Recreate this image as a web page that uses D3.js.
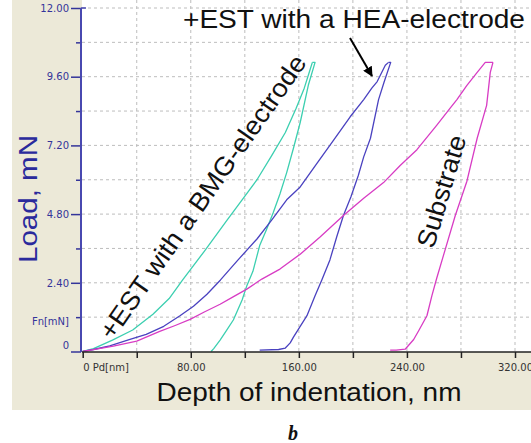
<!DOCTYPE html>
<html>
<head>
<meta charset="utf-8">
<script src="https://cdn.jsdelivr.net/npm/d3@7"></script>
<style>
  body { margin: 0; background: #fff; }
  svg { display: block; }
</style>
</head>
<body>
<div id="chart"></div>
<script>
// depth (nm), load (mN)
var bmgLoading = [
  [0, 0], [8, 0.1], [22, 0.4], [37, 0.75], [52, 1.3], [64, 1.85], [74, 2.5],
  [90, 3.5], [107, 4.6], [118, 5.3], [129, 6.0], [140, 6.85], [150, 7.65],
  [158, 8.5], [164, 9.2], [168, 9.8], [170, 10.1]
];
var bmgUnloading = [
  [170, 10.1], [172, 10.1], [167, 9.3], [161, 8.0], [156, 7.1], [151, 6.25],
  [146, 5.5], [141, 4.85], [136, 4.25], [131, 3.7], [126, 2.8], [121.5, 2.3],
  [118, 1.8], [111.5, 1.1], [106, 0.7], [101.7, 0.4], [97, 0.1], [95, 0]
];
var heaLoading = [
  [0, 0], [8, 0.07], [20, 0.2], [35, 0.42], [47, 0.6], [60, 0.88], [72, 1.25],
  [82, 1.58], [92, 2.0], [102, 2.5], [115, 3.2], [129, 3.93], [140, 4.6],
  [151, 5.3], [161, 5.75], [173, 6.55], [186, 7.4], [198, 8.2], [208, 8.8],
  [214, 9.2], [218, 9.43], [224, 10.0], [226.4, 10.1]
];
var heaUnloading = [
  [226.4, 10.1], [228, 10.1], [223, 9.4], [219, 8.8], [213, 7.45], [208, 6.8],
  [204, 6.15], [198.5, 5.4], [193, 4.75], [188, 4.0], [183, 3.2], [177, 2.5],
  [172, 1.95], [166, 1.25], [161, 0.88], [156, 0.5], [153.6, 0.3], [150, 0.12],
  [145, 0.07], [131, 0.05]
];
var substrateLoading = [
  [0, 0], [10, 0.08], [22.7, 0.19], [40, 0.36], [57, 0.7], [68, 0.9],
  [79.5, 1.12], [90, 1.38], [101.7, 1.65], [111, 1.9], [121.5, 2.18],
  [132.6, 2.53], [146, 2.88], [161, 3.4], [175.7, 4.0], [193, 4.75],
  [208, 5.35], [222.7, 5.9], [235, 6.5], [247.4, 7.05], [262, 7.9],
  [272, 8.5], [277, 8.8], [284.4, 9.3], [292, 9.75], [298, 10.1], [303.7, 10.1]
];
var substrateUnloading = [
  [303.7, 10.1], [301.7, 9.75], [299, 8.6], [292, 7.45], [284.4, 5.95],
  [275.8, 4.75], [267, 3.35], [262, 2.55], [258.5, 1.95], [254.8, 1.25],
  [249, 0.75], [245, 0.42], [240, 0.15], [238.7, 0.08], [232, 0.05], [227.6, 0.05]
];

var xTickValues = [0, 80, 160, 240, 320];
var xTickLabels = ["0 Pd[nm]", "80.00", "160.00", "240.00", "320.00"];
var xMinorTicks = [40, 120, 200, 280];
var yTickValues = [0, 2.4, 4.8, 7.2, 9.6, 12];
var yTickLabels = ["0", "2.40", "4.80", "7.20", "9.60", "12.00"];
var yMinorTicks = [1.2, 3.6, 6.0, 8.4, 10.8];

var width = 531,
    height = 443,
    plotLeft = 82,
    plotBottom = 352,
    cyan = '#3ccfb0',
    blue = '#4a42c0',
    magenta = '#d83cc4',
    axisBlue = '#34349a'
;

var x = d3.scaleLinear().domain([0, 320]).range([82.7, 515]);
var y = d3.scaleLinear().domain([0, 12]).range([351.5, 8]);

var svg = d3.select('#chart')
  .append('svg')
    .attr('width', width)
    .attr('height', height);
var defs = svg.append('defs');

defs.append('clipPath')
    .attr('id', 'plot-clip')
  .append('rect')
    .attr('x', plotLeft)
    .attr('y', 0)
    .attr('width', width - plotLeft)
    .attr('height', plotBottom);

defs.append('marker')
    .attr('id', 'arrow')
    .attr('viewBox', '0 0 10 10')
    .attr('refX', 9)
    .attr('refY', 5)
    .attr('markerWidth', 5)
    .attr('markerHeight', 5)
    .attr('orient', 'auto')
  .append('path')
    .attr('d', 'M0,0L10,5L0,10Z')
    .attr('fill', '#000');

// panel backgrounds
svg.append('rect')
  .attr('x', 12).attr('y', 0)
  .attr('width', width - 12).attr('height', 410)
  .attr('fill', '#ece9d8');
svg.append('rect')
  .attr('x', plotLeft).attr('y', 0)
  .attr('width', width - plotLeft).attr('height', plotBottom)
  .attr('fill', '#fff');

// dashed grid
var grid = svg.append('g').attr('class', 'grid');
grid.selectAll('line.gx')
  .data(xMinorTicks.concat(xTickValues.slice(1)))
  .enter().append('line')
    .attr('x1', function (d) { return x(d); })
    .attr('x2', function (d) { return x(d); })
    .attr('y1', 0)
    .attr('y2', plotBottom)
    .attr('stroke', '#bdbdbd')
    .attr('stroke-dasharray', '3,3');
grid.selectAll('line.gy')
  .data(yMinorTicks.concat(yTickValues.slice(1)))
  .enter().append('line')
    .attr('x1', plotLeft)
    .attr('x2', width)
    .attr('y1', function (d) { return y(d); })
    .attr('y2', function (d) { return y(d); })
    .attr('stroke', '#bdbdbd')
    .attr('stroke-dasharray', '3,3');

// curves
var line = d3.line()
  .x(function (d) { return x(d[0]); })
  .y(function (d) { return y(d[1]); });

var curves = [
  {pts: bmgLoading, color: cyan},
  {pts: bmgUnloading, color: cyan},
  {pts: heaLoading, color: blue},
  {pts: heaUnloading, color: blue},
  {pts: substrateLoading, color: magenta},
  {pts: substrateUnloading, color: magenta}
];

svg.append('g')
    .attr('clip-path', 'url(#plot-clip)')
  .selectAll('path')
  .data(curves)
  .enter().append('path')
    .attr('d', function (c) { return line(c.pts); })
    .attr('fill', 'none')
    .attr('stroke', function (c) { return c.color; })
    .attr('stroke-width', 1.3)
    .attr('stroke-linejoin', 'round');

// x axis
var xAxis = svg.append('g')
  .attr('transform', 'translate(0,' + plotBottom + ')')
  .call(d3.axisBottom(x)
    .tickValues(xTickValues.concat(xMinorTicks))
    .tickSize(6)
    .tickPadding(6)
    .tickFormat(function (d) {
      var i = xTickValues.indexOf(d);
      return i < 0 ? '' : xTickLabels[i];
    }));
xAxis.select('.domain').remove();
xAxis.selectAll('.tick line').attr('stroke', '#222').attr('stroke-width', 1.5);
xAxis.selectAll('.tick text')
  .attr('fill', '#333')
  .style('font-family', '"DejaVu Sans", Arial, sans-serif')
  .style('font-size', '10px')
  .attr('text-anchor', function (d) { return d === 0 ? 'start' : 'middle'; });
xAxis.append('line')
  .attr('x1', plotLeft).attr('x2', width)
  .attr('stroke', '#222').attr('stroke-width', 1.5);

// y axis
var yAxis = svg.append('g')
  .attr('transform', 'translate(81,0)')
  .call(d3.axisLeft(y)
    .tickValues(yTickValues)
    .tickSize(10)
    .tickPadding(2)
    .tickFormat(function (d, i) { return yTickLabels[i]; }));
yAxis.select('.domain').remove();
yAxis.selectAll('.tick line').attr('stroke', axisBlue).attr('stroke-width', 1.5);
yAxis.selectAll('.tick text')
  .attr('fill', axisBlue)
  .attr('dy', function (d) { return d === 0 ? '-0.35em' : '0.32em'; })
  .style('font-family', '"DejaVu Sans", Arial, sans-serif')
  .style('font-size', '10px');

var yMinor = svg.append('g')
  .attr('transform', 'translate(81,0)')
  .call(d3.axisLeft(y).tickValues(yMinorTicks).tickSize(5).tickFormat(''));
yMinor.select('.domain').remove();
yMinor.selectAll('.tick line').attr('stroke', axisBlue).attr('stroke-width', 1.5);

svg.append('line')
  .attr('x1', 81).attr('x2', 81)
  .attr('y1', y(12)).attr('y2', plotBottom)
  .attr('stroke', '#4848b0').attr('stroke-width', 2);
svg.append('line')
  .attr('x1', 81).attr('x2', 86)
  .attr('y1', y(12)).attr('y2', y(12))
  .attr('stroke', '#4848b0').attr('stroke-width', 1.5);

svg.append('text')
  .attr('x', 69).attr('y', y(1.2) + 8)
  .attr('text-anchor', 'end')
  .attr('fill', axisBlue)
  .style('font-family', '"DejaVu Sans", Arial, sans-serif')
  .style('font-size', '10px')
  .text('Fn[mN]');

// titles and annotations
var sans = '"Liberation Sans", Arial, sans-serif';

svg.append('text')
  .attr('x', 309).attr('y', 401)
  .attr('text-anchor', 'middle')
  .attr('textLength', 305)
  .attr('lengthAdjust', 'spacingAndGlyphs')
  .style('font-family', sans)
  .style('font-size', '26px')
  .attr('fill', '#111')
  .text('Depth of indentation, nm');

svg.append('text')
  .attr('transform', 'translate(37,199) rotate(-90)')
  .attr('text-anchor', 'middle')
  .attr('textLength', 128)
  .attr('lengthAdjust', 'spacingAndGlyphs')
  .style('font-family', sans)
  .style('font-size', '25px')
  .attr('fill', '#2a2a9c')
  .text('Load, mN');

svg.append('text')
  .attr('x', 354).attr('y', 28)
  .attr('text-anchor', 'middle')
  .attr('textLength', 342)
  .attr('lengthAdjust', 'spacingAndGlyphs')
  .style('font-family', sans)
  .style('font-size', '26px')
  .attr('fill', '#111')
  .text('+EST with a HEA-electrode');

svg.append('text')
  .attr('transform', 'translate(210,202) rotate(-55)')
  .attr('text-anchor', 'middle')
  .attr('textLength', 340)
  .attr('lengthAdjust', 'spacingAndGlyphs')
  .style('font-family', sans)
  .style('font-size', '26px')
  .attr('fill', '#111')
  .text('+EST with a BMG-electrode');

svg.append('text')
  .attr('transform', 'translate(450,194) rotate(-73.5)')
  .attr('text-anchor', 'middle')
  .attr('textLength', 116)
  .attr('lengthAdjust', 'spacingAndGlyphs')
  .style('font-family', sans)
  .style('font-size', '26px')
  .attr('fill', '#111')
  .text('Substrate');

svg.append('line')
  .attr('x1', 350).attr('y1', 38)
  .attr('x2', 372).attr('y2', 76)
  .attr('stroke', '#000')
  .attr('stroke-width', 2)
  .attr('marker-end', 'url(#arrow)');

svg.append('text')
  .attr('x', 293).attr('y', 440)
  .attr('text-anchor', 'middle')
  .style('font-family', '"Liberation Serif", "Times New Roman", serif')
  .style('font-size', '20px')
  .style('font-weight', 'bold')
  .style('font-style', 'italic')
  .attr('fill', '#111')
  .text('b');
</script>
</body>
</html>
